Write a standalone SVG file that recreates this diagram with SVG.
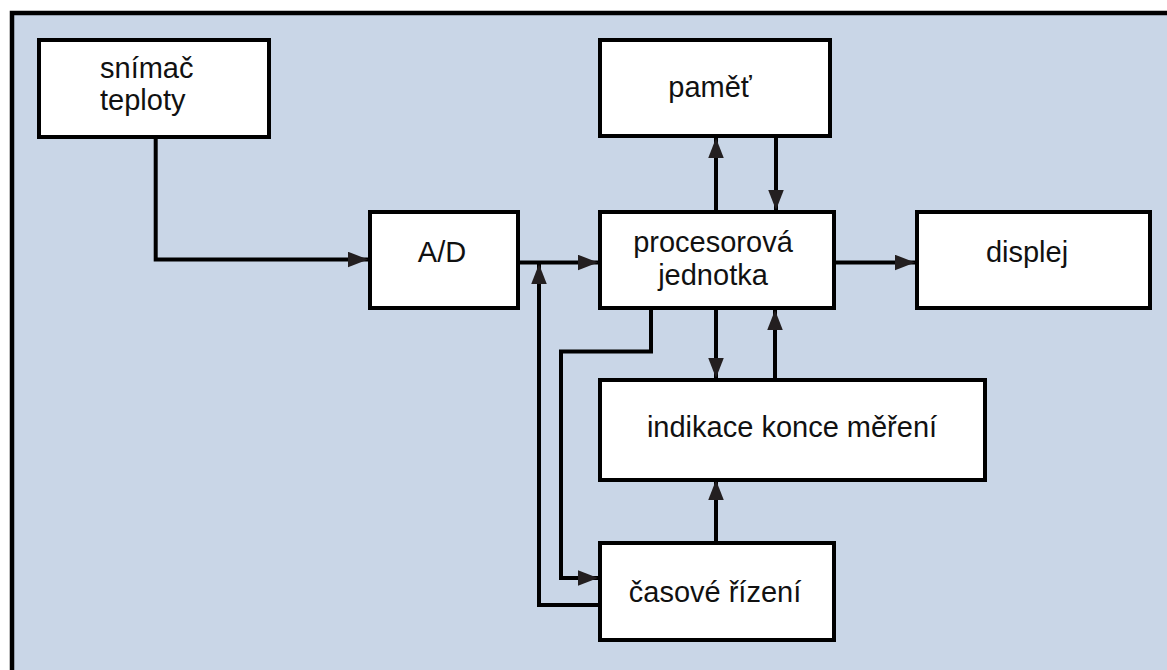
<svg xmlns="http://www.w3.org/2000/svg" width="1167" height="670" viewBox="0 0 1167 670">
<style>
.box{fill:#ffffff;stroke:#000;stroke-width:4}
.lbl{font-family:"Liberation Sans",Arial,sans-serif;font-size:29px;fill:#111;text-anchor:middle}
.con{fill:none;stroke:#000;stroke-width:4;stroke-linejoin:miter}
</style>
<defs>
<marker id="ah" markerUnits="userSpaceOnUse" markerWidth="20" markerHeight="16" viewBox="0 0 18 14" refX="18" refY="7" orient="auto">
<path d="M0,0 L18,7 L0,14 z" fill="#231f20"/>
</marker>
</defs>
<rect x="0" y="0" width="1167" height="670" fill="#ffffff"/>
<rect x="12" y="13" width="1180" height="680" fill="#c9d6e7" stroke="#000" stroke-width="4.5"/>

<g id="connectors">
<path class="con" d="M155.7,139 V259.5 H368" marker-end="url(#ah)"/>
<path class="con" d="M520,262.5 H598" marker-end="url(#ah)"/>
<path class="con" d="M834,262.5 H915" marker-end="url(#ah)"/>
<path class="con" d="M716,210 V138" marker-end="url(#ah)"/>
<path class="con" d="M776,138 V210" marker-end="url(#ah)"/>
<path class="con" d="M716,310 V378" marker-end="url(#ah)"/>
<path class="con" d="M775,378 V310" marker-end="url(#ah)"/>
<path class="con" d="M716,543 V480" marker-end="url(#ah)"/>
<path class="con" d="M651,310 V351.5 H561 V578 H598" marker-end="url(#ah)"/>
<path class="con" d="M598,605 H539 V264" marker-end="url(#ah)"/>
</g>

<g id="snimac">
<rect class="box" x="39" y="40" width="230" height="97"/>
<text class="lbl" x="100" y="78" style="text-anchor:start">snímač</text>
<text class="lbl" x="100" y="110" style="text-anchor:start">teploty</text>
</g>
<g id="ad">
<rect class="box" x="370" y="212" width="148" height="96"/>
<text class="lbl" x="442" y="262">A/D</text>
</g>
<g id="pamet">
<rect class="box" x="600" y="40" width="230" height="96"/>
<text class="lbl" x="710" y="97">paměť</text>
</g>
<g id="procesor">
<rect class="box" x="600" y="212" width="234" height="96"/>
<text class="lbl" x="713" y="252">procesorová</text>
<text class="lbl" x="713" y="285">jednotka</text>
</g>
<g id="displej">
<rect class="box" x="917" y="212" width="233" height="96"/>
<text class="lbl" x="1027" y="262">displej</text>
</g>
<g id="indikace">
<rect class="box" x="600" y="380" width="385" height="100"/>
<text class="lbl" x="792" y="437">indikace konce měření</text>
</g>
<g id="casove">
<rect class="box" x="600" y="543" width="234" height="97"/>
<text class="lbl" x="715" y="602">časové řízení</text>
</g>
</svg>
